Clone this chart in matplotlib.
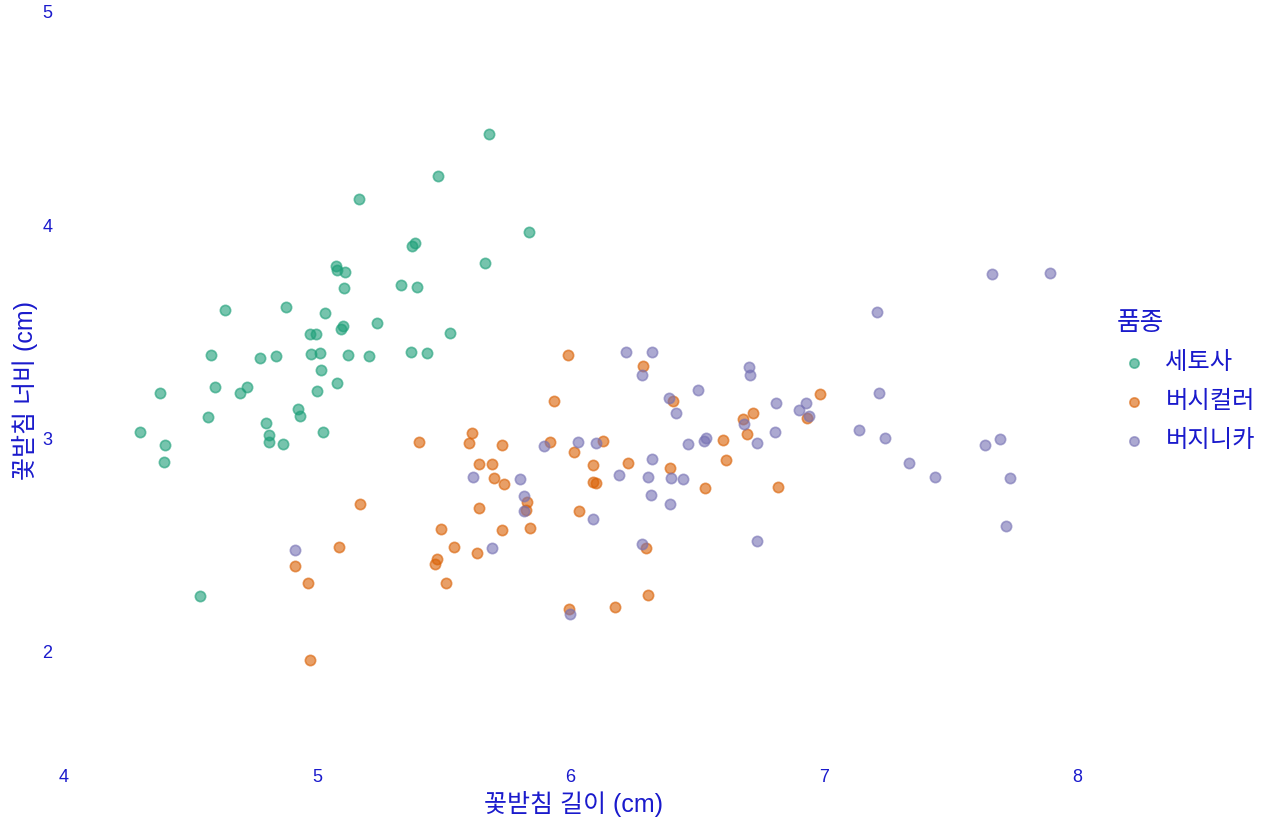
import matplotlib
matplotlib.use("Agg")
import matplotlib.pyplot as plt

plt.rcParams['font.family'] = ['Liberation Sans', 'Noto Sans CJK KR', 'DejaVu Sans']

text_color = '#1a1acc'

species = ['세토사', '버시컬러', '버지니카']
colors = ['#1b9e77', '#d95f02', '#7570b3']

# 꽃받침 길이 / 너비 (jittered)
setosa_x = [5.476, 5.165, 5.385, 5.375, 5.075, 5.079, 5.110, 5.106, 5.331, 5.393,
            4.636, 4.877, 5.032, 5.102, 5.093, 5.237, 5.524, 4.971, 4.994, 4.580,
            4.775, 4.837, 4.975, 5.010, 5.121, 5.204, 5.369, 5.432, 5.016, 5.076,
            5.000, 4.380, 4.596, 4.695, 4.724, 4.569, 4.924, 4.932, 4.799, 4.809,
            4.809, 4.301, 4.400, 4.865, 5.023, 4.396, 4.538, 5.678, 5.836, 5.662]
setosa_y = [4.233, 4.122, 3.919, 3.903, 3.808, 3.789, 3.781, 3.706, 3.719, 3.710,
            3.605, 3.616, 3.588, 3.530, 3.513, 3.541, 3.495, 3.489, 3.489, 3.391,
            3.378, 3.389, 3.398, 3.403, 3.394, 3.387, 3.405, 3.400, 3.323, 3.262,
            3.225, 3.213, 3.241, 3.213, 3.241, 3.103, 3.139, 3.105, 3.073, 3.017,
            2.986, 3.033, 2.970, 2.975, 3.033, 2.892, 2.264, 4.428, 3.969, 3.823]

versicolor_x = [5.400, 5.612, 5.599, 5.169, 4.911, 4.963, 5.087, 4.973, 5.489, 5.540,
                5.471, 5.463, 5.510, 5.990, 6.286, 5.936, 5.729, 5.919, 6.015, 6.130,
                5.637, 5.690, 5.698, 5.739, 5.828, 5.823, 5.640, 6.090, 6.228, 6.090,
                6.101, 6.035, 5.728, 5.841, 5.631, 6.297, 6.305, 6.176, 5.993, 6.406,
                6.984, 6.934, 6.719, 6.680, 6.696, 6.602, 6.613, 6.393, 6.530, 6.819]
versicolor_y = [2.983, 3.028, 2.980, 2.694, 2.403, 2.322, 2.491, 1.961, 2.575, 2.492,
                2.437, 2.411, 2.323, 3.394, 3.341, 3.175, 2.972, 2.983, 2.939, 2.989,
                2.880, 2.881, 2.817, 2.786, 2.702, 2.666, 2.674, 2.875, 2.886, 2.798,
                2.792, 2.661, 2.570, 2.580, 2.466, 2.486, 2.267, 2.212, 2.201, 3.175,
                3.211, 3.097, 3.120, 3.091, 3.020, 2.992, 2.899, 2.864, 2.770, 2.772]

virginica_x = [4.911, 5.613, 6.220, 6.323, 6.284, 5.897, 6.030, 6.101, 5.802, 5.816,
               5.815, 6.190, 6.323, 6.305, 6.316, 6.087, 5.689, 6.284, 5.997, 6.705,
               6.709, 6.505, 6.389, 6.417, 6.811, 6.928, 6.902, 6.943, 6.686, 6.809,
               6.736, 6.527, 6.536, 6.465, 6.398, 6.443, 6.394, 6.736, 7.666, 7.895,
               7.209, 7.217, 7.140, 7.240, 7.337, 7.438, 7.638, 7.696, 7.737, 7.721]
virginica_y = [2.478, 2.822, 3.408, 3.406, 3.297, 2.966, 2.983, 2.981, 2.812, 2.730,
               2.663, 2.828, 2.903, 2.819, 2.734, 2.622, 2.486, 2.508, 2.177, 3.336,
               3.298, 3.227, 3.191, 3.122, 3.167, 3.169, 3.134, 3.105, 3.069, 3.030,
               2.981, 2.989, 3.004, 2.977, 2.817, 2.812, 2.694, 2.519, 3.772, 3.775,
               3.594, 3.213, 3.039, 3.002, 2.885, 2.820, 2.970, 2.998, 2.816, 2.592]

xs = [setosa_x, versicolor_x, virginica_x]
ys = [setosa_y, versicolor_y, virginica_y]

fig = plt.figure(figsize=(12.8, 8.32), dpi=100)
ax = fig.add_axes([0.05, 0.0769, 0.7954, 0.9087])

for name, c, x, y in zip(species, colors, xs, ys):
    ax.scatter(x, y, s=55, color=c, alpha=0.6, edgecolors=c, linewidths=1.2, label=name)

ax.set_xlim(4, 8.02)
ax.set_ylim(1.456, 5.0)
ax.set_xticks([4, 5, 6, 7, 8])
ax.set_yticks([2, 3, 4, 5])
ax.tick_params(length=0, labelsize=13, labelcolor=text_color)
ax.tick_params(axis='x', pad=1)
ax.tick_params(axis='y', pad=8.5)
for s in ax.spines.values():
    s.set_visible(False)

ax.set_xlabel('꽃받침 길이 (cm)', fontsize=18, color=text_color, labelpad=3)
ax.set_ylabel('꽃받침 너비 (cm)', fontsize=18, color=text_color, labelpad=3)

leg = ax.legend(title='품종', loc='upper left', bbox_to_anchor=(1095 / 1280, 1 - 289 / 832),
                bbox_transform=fig.transFigure, frameon=False, fontsize=17.5,
                title_fontsize=18.5, labelspacing=0.7, handlelength=1.4,
                handletextpad=0.6, markerscale=0.9, alignment='left')
for t in leg.get_texts():
    t.set_color(text_color)
leg.get_title().set_color(text_color)

fig.savefig('out.png', dpi=100)
